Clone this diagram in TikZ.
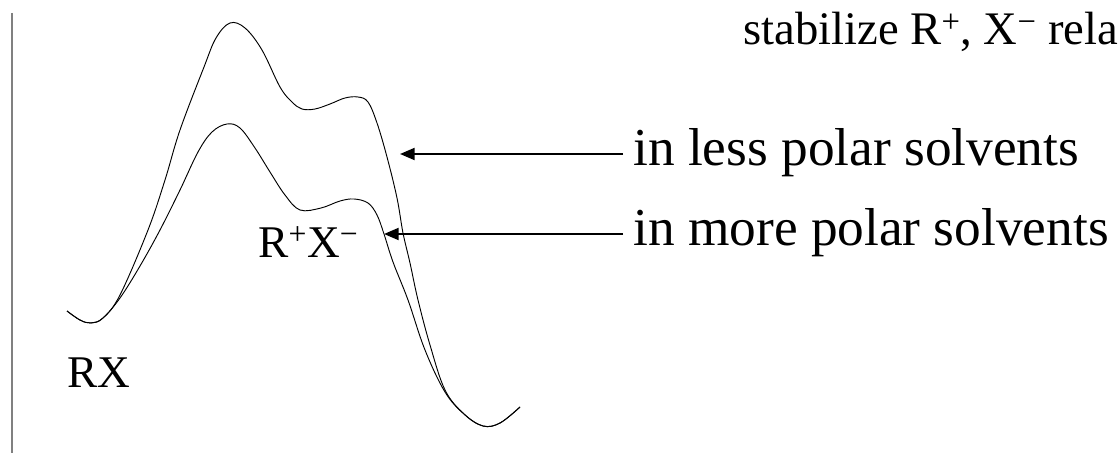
\documentclass[tikz,border=0pt]{standalone}
\usepackage{fontspec}
\setmainfont{Liberation Serif}
\usetikzlibrary{arrows.meta}
\tikzset{
  curve/.style={line width=0.7pt, black},
  axis/.style={line width=1.1pt, gray},
  pointer/.style={line width=1.5pt, -{Triangle[length=11pt,width=9pt]}},
  lbl/.style={inner sep=0pt, anchor=base west, font=\fontsize{34}{40}\selectfont},
  biglbl/.style={lbl, font=\fontsize{40}{46}\selectfont}
}
\begin{document}
\begin{tikzpicture}[x=0.75pt,y=-0.75pt]
\useasboundingbox (0,0) rectangle (1120,453);
\clip (0,0) rectangle (1120,453);
% axis
\coordinate (axtop) at (12,13);
\coordinate (axbot) at (12,453);
\draw[axis] (axtop) -- (axbot);
% upper curve (less polar)
\draw[curve] plot[smooth, tension=0.6] coordinates {
 (67,311) (80,320) (91,323) (103,318) (120,295) (148,230) (165,180) (180,130) (204,67) (216,38) (230,23) (245,28) (262,50) (280,87) (292,102) (302,109) (315,109) (330,104) (345,98) (358,97) (368,102) (377,123) (387,157) (397,198) (403,233) (410,263) (418,300) (430,345) (445,390) (464,414) (483,426) (500,423) (520,407)};
% lower curve (more polar)
\draw[curve] plot[smooth, tension=0.6] coordinates {
 (67,311) (80,320) (91,323) (103,318) (120,298) (140,266) (160,230) (180,190) (198,152) (212,132) (227,124) (240,128) (255,148) (270,172) (285,195) (300,210) (321,208) (340,201) (354,199) (368,203) (377,215) (384,234) (393,262) (408,300) (425,350) (445,392) (464,414) (483,426) (500,423) (520,407)};
% labels
\node[lbl, font=\fontsize{35}{41}\selectfont] (top) at (743,45) {stabilize R\textsuperscript{+}, X\textsuperscript{−} rela};
\node[biglbl] (less) at (633,165) {in less polar solvents};
\node[biglbl] (more) at (633,245) {in more polar solvents};
\node[lbl] (ion) at (258,257) {R\textsuperscript{+}X\textsuperscript{−}};
\node[lbl] (rx) at (67,387) {RX};
% arrows
\coordinate (a1tip) at (400,154);
\coordinate (a2tip) at (384,234);
\draw[pointer] (623,154) coordinate (a1s) -- (a1tip);
\draw[pointer] (623,234) coordinate (a2s) -- (a2tip);
\end{tikzpicture}
\end{document}
